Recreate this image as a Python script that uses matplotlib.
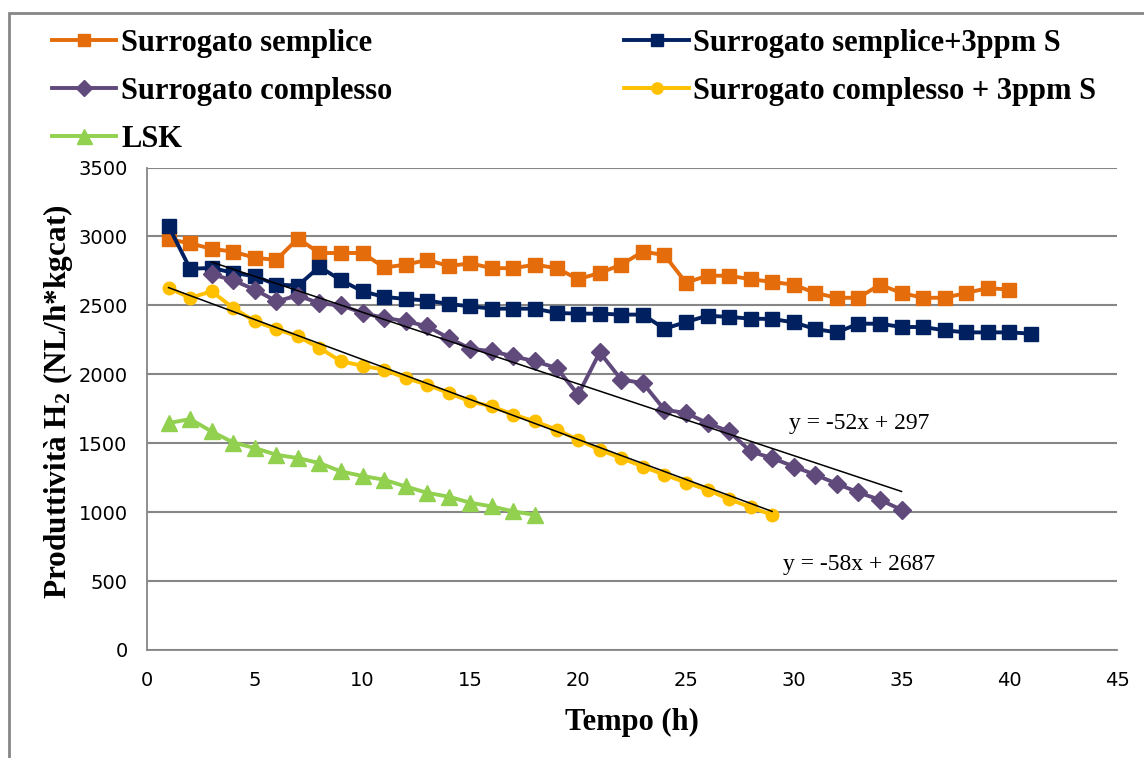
import matplotlib
matplotlib.use("Agg")
import matplotlib.pyplot as plt
import numpy as np
from matplotlib.lines import Line2D
from matplotlib.patches import Rectangle

# --- data ---
x_semplice = np.arange(1, 41)
y_semplice = [2980, 2950, 2910, 2890, 2845, 2830, 2985, 2880, 2880, 2880,
              2775, 2795, 2830, 2785, 2805, 2770, 2770, 2795, 2770, 2690,
              2735, 2795, 2890, 2865, 2665, 2715, 2715, 2690, 2670, 2650,
              2590, 2555, 2555, 2650, 2590, 2555, 2555, 2590, 2625, 2615]

x_semplice_s = np.arange(1, 42)
y_semplice_s = [3075, 2765, 2772, 2736, 2711, 2651, 2643, 2780, 2682, 2602,
                2561, 2547, 2535, 2510, 2493, 2476, 2476, 2476, 2445, 2440,
                2440, 2433, 2433, 2330, 2379, 2425, 2416, 2404, 2401, 2377,
                2328, 2304, 2367, 2367, 2343, 2343, 2319, 2304, 2304, 2304,
                2295]

x_complesso = np.arange(3, 36)
y_complesso = [2725, 2682, 2614, 2530, 2571, 2515, 2500, 2445, 2409, 2385,
               2348, 2263, 2185, 2167, 2130, 2094, 2046, 1852, 2159, 1961,
               1937, 1743, 1719, 1646, 1585, 1440, 1392, 1331, 1271, 1206,
               1143, 1089, 1017]

x_complesso_s = np.arange(1, 30)
y_complesso_s = [2627, 2554, 2602, 2481, 2385, 2328, 2275, 2191, 2094, 2062,
                 2033, 1973, 1924, 1864, 1803, 1767, 1707, 1658, 1598, 1525,
                 1452, 1392, 1331, 1271, 1215, 1162, 1094, 1036, 980]

x_lsk = np.arange(1, 19)
y_lsk = [1646, 1675, 1585, 1505, 1465, 1416, 1392, 1356, 1295, 1262,
         1235, 1186, 1140, 1112, 1068, 1041, 1005, 980]

# linear trendlines shown on the chart: slope, intercept, x range
trend_slope = [-52, -58]
trend_icept = [2970, 2687]
trend_xrange = [(3, 35), (1, 29)]
trend_labels = ["y = -52x + 297", "y = -58x + 2687"]
trend_label_pos = [(29.8, 1641), (29.5, 617)]

labels = ["Surrogato semplice", "Surrogato semplice+3ppm S",
          "Surrogato complesso", "Surrogato complesso + 3ppm S", "LSK"]

plt.rcParams["mathtext.fontset"] = "custom"
plt.rcParams["mathtext.rm"] = "Liberation Serif:bold"
plt.rcParams["mathtext.it"] = "Liberation Serif:bold"
plt.rcParams["mathtext.bf"] = "Liberation Serif:bold"

fig = plt.figure(figsize=(11.44, 7.58), dpi=100)
ax = fig.add_axes([0.1285, 0.1425, 0.848, 0.6365])

series = [
    (x_semplice, y_semplice, "#E46C0A", "s", 10),
    (x_semplice_s, y_semplice_s, "#002060", "s", 10),
    (x_complesso, y_complesso, "#604A7B", "D", 9),
    (x_complesso_s, y_complesso_s, "#FFC000", "o", 9),
    (x_lsk, y_lsk, "#92D050", "^", 12),
]
handles = []
for (xs, ys, col, mk, ms), lab in zip(series, labels):
    ax.plot(xs, ys, color=col, lw=2.8, marker=mk, ms=ms, mec=col, mfc=col)
    handles.append(Line2D([], [], color=col, lw=2.8, marker=mk, ms=ms * 0.9,
                          mec=col, mfc=col, label=lab))

for m, b, (x0, x1), txt, (tx, ty) in zip(trend_slope, trend_icept, trend_xrange,
                                         trend_labels, trend_label_pos):
    xx = np.array([x0, x1])
    ax.plot(xx, m * xx + b, color="black", lw=1.1, zorder=5)
    ax.text(tx, ty, txt, family="Liberation Serif", fontsize=17,
            ha="left", va="center")

ax.set_xlim(0, 45)
ax.set_ylim(0, 3500)
ax.set_xticks(np.arange(0, 46, 5))
ax.set_yticks(np.arange(0, 3501, 500))
ax.yaxis.grid(True, color="#868686", lw=1.5)
ax.set_axisbelow(True)
for s in ["top", "right"]:
    ax.spines[s].set_visible(False)
for s in ["left", "bottom"]:
    ax.spines[s].set_color("#868686")
    ax.spines[s].set_linewidth(1.3)
ax.tick_params(length=0, labelsize=14)
ax.tick_params(axis="y", pad=14)
ax.tick_params(axis="x", pad=15)

ax.set_xlabel("Tempo (h)", family="Liberation Serif", weight="bold",
              fontsize=22, labelpad=13)
ax.set_ylabel("Produttività H$_2$ (NL/h*kgcat)", family="Liberation Serif",
              weight="bold", fontsize=22.5, labelpad=2.5)
ax.yaxis.label.set_y(0.514)

# legend: two columns, row-major order as in the reference
order = [0, 2, 4, 1, 3]
fig.legend([handles[i] for i in order], [labels[i] for i in order],
           ncol=2, loc="upper left", bbox_to_anchor=(0.035, 0.978),
           frameon=False, prop={"family": "Liberation Serif", "weight": "bold", "size": 22},
           handlelength=2.1, handletextpad=0.15, columnspacing=7.6,
           labelspacing=0.62, borderaxespad=0)

# outer chart border (only left/top visible in the reference)
fig.patches.append(Rectangle((0.0075, -0.05), 1.2, 0.0333 + 1.0, transform=fig.transFigure,
                             fill=False, edgecolor="#868686", lw=2.0))

fig.savefig("out.png", dpi=100)
